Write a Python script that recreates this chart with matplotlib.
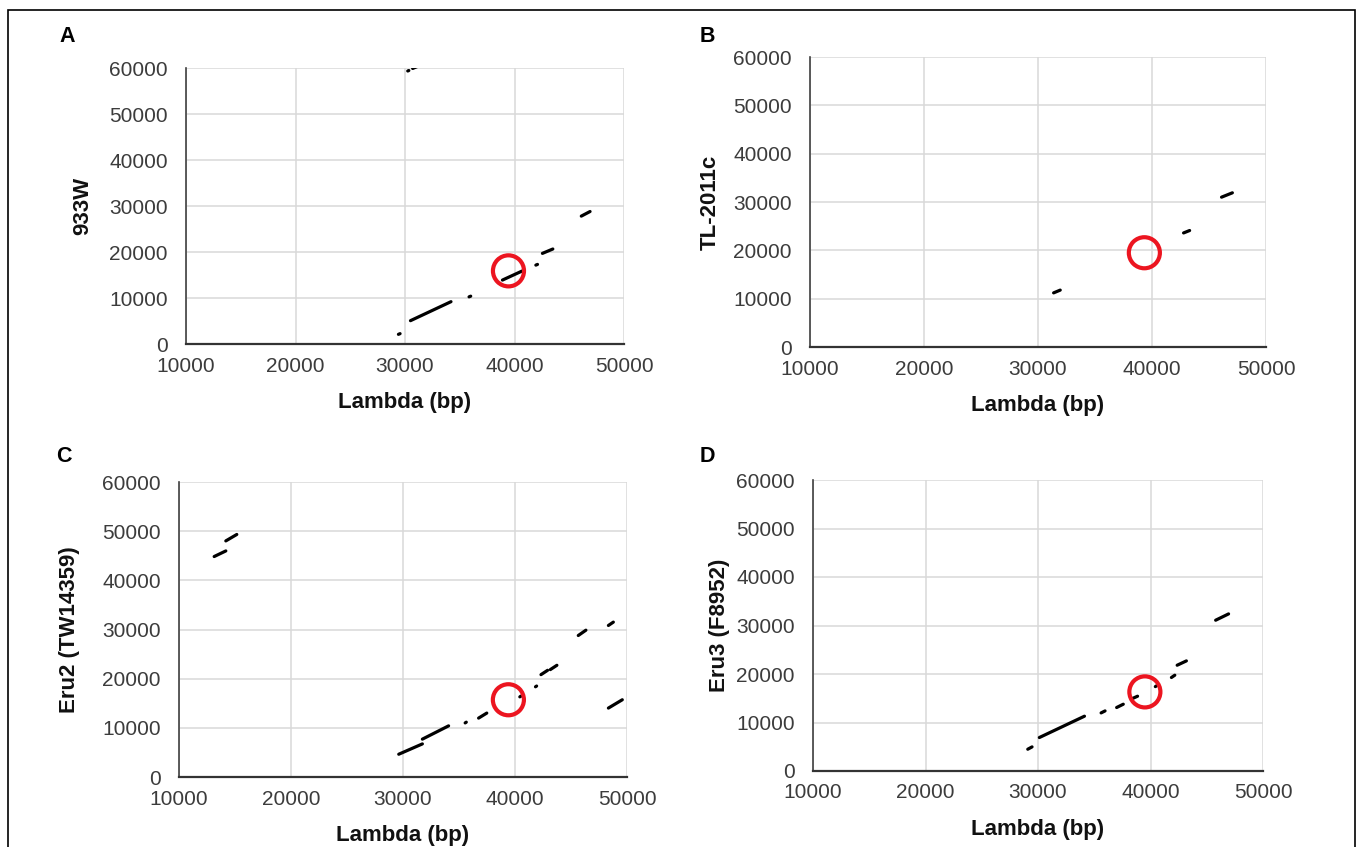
import matplotlib
matplotlib.use("Agg")
import matplotlib.pyplot as plt
from matplotlib.patches import Rectangle

plt.rcParams['font.family'] = ['Liberation Sans', 'DejaVu Sans']

# ---------------- data (Lambda bp vs. phage genome bp) ----------------
panel_letters = ["A", "B", "C", "D"]
y_titles = ["933W", "TL-2011c", "Eru2 (TW14359)", "Eru3 (F8952)"]
x_title = "Lambda (bp)"
x_ticks = [10000, 20000, 30000, 40000, 50000]
y_ticks = [0, 10000, 20000, 30000, 40000, 50000, 60000]

# Panel A: 933W
a_x0 = [30250, 30700, 29400, 30500, 35850, 38900, 41950, 42550, 46100]
a_x1 = [30350, 31200, 29550, 34200, 36000, 40700, 42100, 43500, 46900]
a_y0 = [59350, 59900, 2100, 5070, 10250, 13900, 17150, 19700, 27800]
a_y1 = [59450, 60400, 2250, 9200, 10400, 15870, 17300, 20650, 28800]

# Panel B: TL-2011c
b_x0 = [31370, 42770, 46100]
b_x1 = [31950, 43300, 47050]
b_y0 = [11200, 23600, 31000]
b_y1 = [11770, 24100, 31900]

# Panel C: Eru2 (TW14359)
c_x0 = [13140, 14180, 29620, 31730, 35550, 36750, 40430, 41830, 42320, 43150, 45650, 48340, 48340]
c_x1 = [14180, 15160, 31730, 34070, 35650, 37480, 40530, 41930, 42910, 43740, 46330, 48780, 49580]
c_y0 = [44840, 48020, 4630, 7700, 11000, 11980, 16300, 18350, 20820, 21840, 28780, 30820, 14020]
c_y1 = [45980, 49330, 6730, 10400, 11150, 13000, 16450, 18500, 21700, 22720, 29860, 31500, 15710]

# Panel D: Eru3 (F8952)
d_x0 = [29090, 30120, 35610, 36990, 38320, 40430, 41860, 42370, 45790]
d_x1 = [29470, 34130, 35960, 37580, 38850, 40530, 42160, 43190, 46940]
d_y0 = [4490, 6900, 11980, 13090, 14870, 17400, 19280, 21810, 31090]
d_y1 = [4970, 11300, 12390, 13770, 15420, 17550, 19750, 22700, 32390]

# highlighted region (red circles)
circle_x = [39450, 39330, 39410, 39500]
circle_y = [15900, 19500, 15710, 16310]

segments = [(a_x0, a_x1, a_y0, a_y1), (b_x0, b_x1, b_y0, b_y1),
            (c_x0, c_x1, c_y0, c_y1), (d_x0, d_x1, d_y0, d_y1)]

# ---------------- layout (pixels) ----------------
W, H = 1358, 847
fig = plt.figure(figsize=(W / 100, H / 100), dpi=100)
fig.patch.set_facecolor("white")

# left, right, top, bottom in pixels
boxes = [(186, 624, 68, 344), (810, 1266, 57, 347),
         (179, 627, 482, 777), (813, 1263, 480, 771)]
letter_pos = [(67, 37), (707, 36), (64, 457), (707, 457)]
ylabel_px = [83, 710, 70, 720]

TICK_COL = "#3c3c3c"

for i in range(4):
    l, r, t, b = boxes[i]
    ax = fig.add_axes([l / W, 1 - b / H, (r - l) / W, (b - t) / H])
    x0, x1, y0, y1 = segments[i]
    for xs, xe, ys, ye in zip(x0, x1, y0, y1):
        ax.plot([xs, xe], [ys, ye], color="black", lw=2.3,
                solid_capstyle="round", zorder=3)
    ax.scatter([circle_x[i]], [circle_y[i]], s=500, facecolors="none",
               edgecolors="#ec1520", linewidths=3, zorder=4)

    ax.set_xlim(10000, 50000)
    ax.set_ylim(0, 60000)
    ax.set_xticks(x_ticks)
    ax.set_yticks(y_ticks)
    ax.grid(True, color="#d9d9d9", lw=1.1, zorder=0)
    ax.set_axisbelow(True)
    for s in ["top", "right"]:
        ax.spines[s].set_visible(False)
    ax.spines["left"].set_color("#404040")
    ax.spines["left"].set_linewidth(1.2)
    ax.spines["bottom"].set_color("#333333")
    ax.spines["bottom"].set_linewidth(1.6)
    ax.tick_params(length=0, labelsize=15, labelcolor=TICK_COL)
    ax.tick_params(axis="y", pad=13)
    ax.tick_params(axis="x", pad=9)

    ax.set_xlabel(x_title, fontsize=16, fontweight="bold", color="#111111")
    ax.xaxis.set_label_coords(0.5, -(58) / (b - t))
    ax.xaxis.label.set_va("center")
    ax.set_ylabel(y_titles[i], fontsize=16, fontweight="bold", color="#111111")
    ax.yaxis.set_label_coords((ylabel_px[i] - l) / (r - l), 0.5)
    ax.yaxis.label.set_va("center")

    lx, ly = letter_pos[i]
    fig.text(lx / W, 1 - ly / H, panel_letters[i], fontsize=15.5,
             fontweight="bold", ha="center", va="center", color="black")

# outer frame (bottom edge falls outside the image)
fig.patches.append(Rectangle((8 / W, -0.05), (1355 - 8) / W, 1.05 - 10 / H,
                             transform=fig.transFigure, fill=False,
                             edgecolor="black", lw=1.2, clip_on=False))

fig.savefig("out.png", dpi=100, facecolor="white")
